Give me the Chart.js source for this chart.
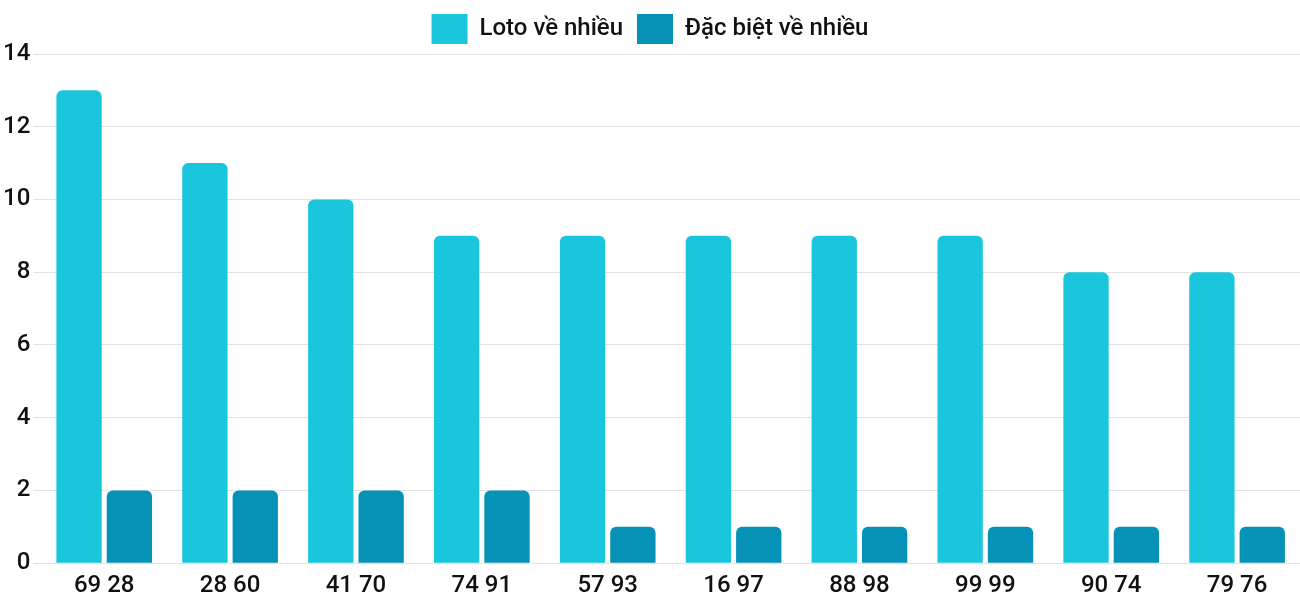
<!DOCTYPE html>
<html>
<head>
  <script src="https://cdn.jsdelivr.net/npm/chart.js@4"></script>
  <style>
    body { margin: 0; background: #fff; }
    #wrap { width: 1300px; height: 600px; }
  </style>
</head>
<body>
  <div id="wrap"><canvas id="chart"></canvas></div>
  <script>
    const categories = ['69 28', '28 60', '41 70', '74 91', '57 93', '16 97', '88 98', '99 99', '90 74', '79 76'];
    const lotoValues = [13, 11, 10, 9, 9, 9, 9, 9, 8, 8];
    const dacBietValues = [2, 2, 2, 2, 1, 1, 1, 1, 1, 1];

    Chart.defaults.font.family = 'Roboto';
    Chart.defaults.color = '#111';

    new Chart(document.getElementById('chart'), {
      type: 'bar',
      data: {
        labels: categories,
        datasets: [
          { label: 'Loto về nhiều', data: lotoValues, backgroundColor: '#1ac6dc', borderRadius: { topLeft: 6, topRight: 6 }, borderSkipped: false },
          { label: 'Đặc biệt về nhiều', data: dacBietValues, backgroundColor: '#0592b6', borderRadius: { topLeft: 6, topRight: 6 }, borderSkipped: false }
        ]
      },
      options: {
        responsive: true,
        maintainAspectRatio: false,
        animation: false,
        layout: { padding: { left: 0, right: 0, top: 0, bottom: 0 } },
        plugins: {
          legend: {
            labels: { font: { size: 24, weight: 500 }, boxWidth: 36, boxHeight: 30, padding: 14 }
          },
          tooltip: { enabled: false }
        },
        scales: {
          x: {
            grid: { display: false },
            border: { display: false },
            categoryPercentage: 0.5,
            barPercentage: 0.95,
            ticks: { font: { size: 24, weight: 500 }, color: '#111', padding: 0 }
          },
          y: {
            min: 0, max: 14,
            border: { display: false },
            grid: { color: '#e2e2e2' },
            ticks: { stepSize: 2, font: { size: 24, weight: 500 }, color: '#111' }
          }
        }
      }
    });
  </script>
</body>
</html>
